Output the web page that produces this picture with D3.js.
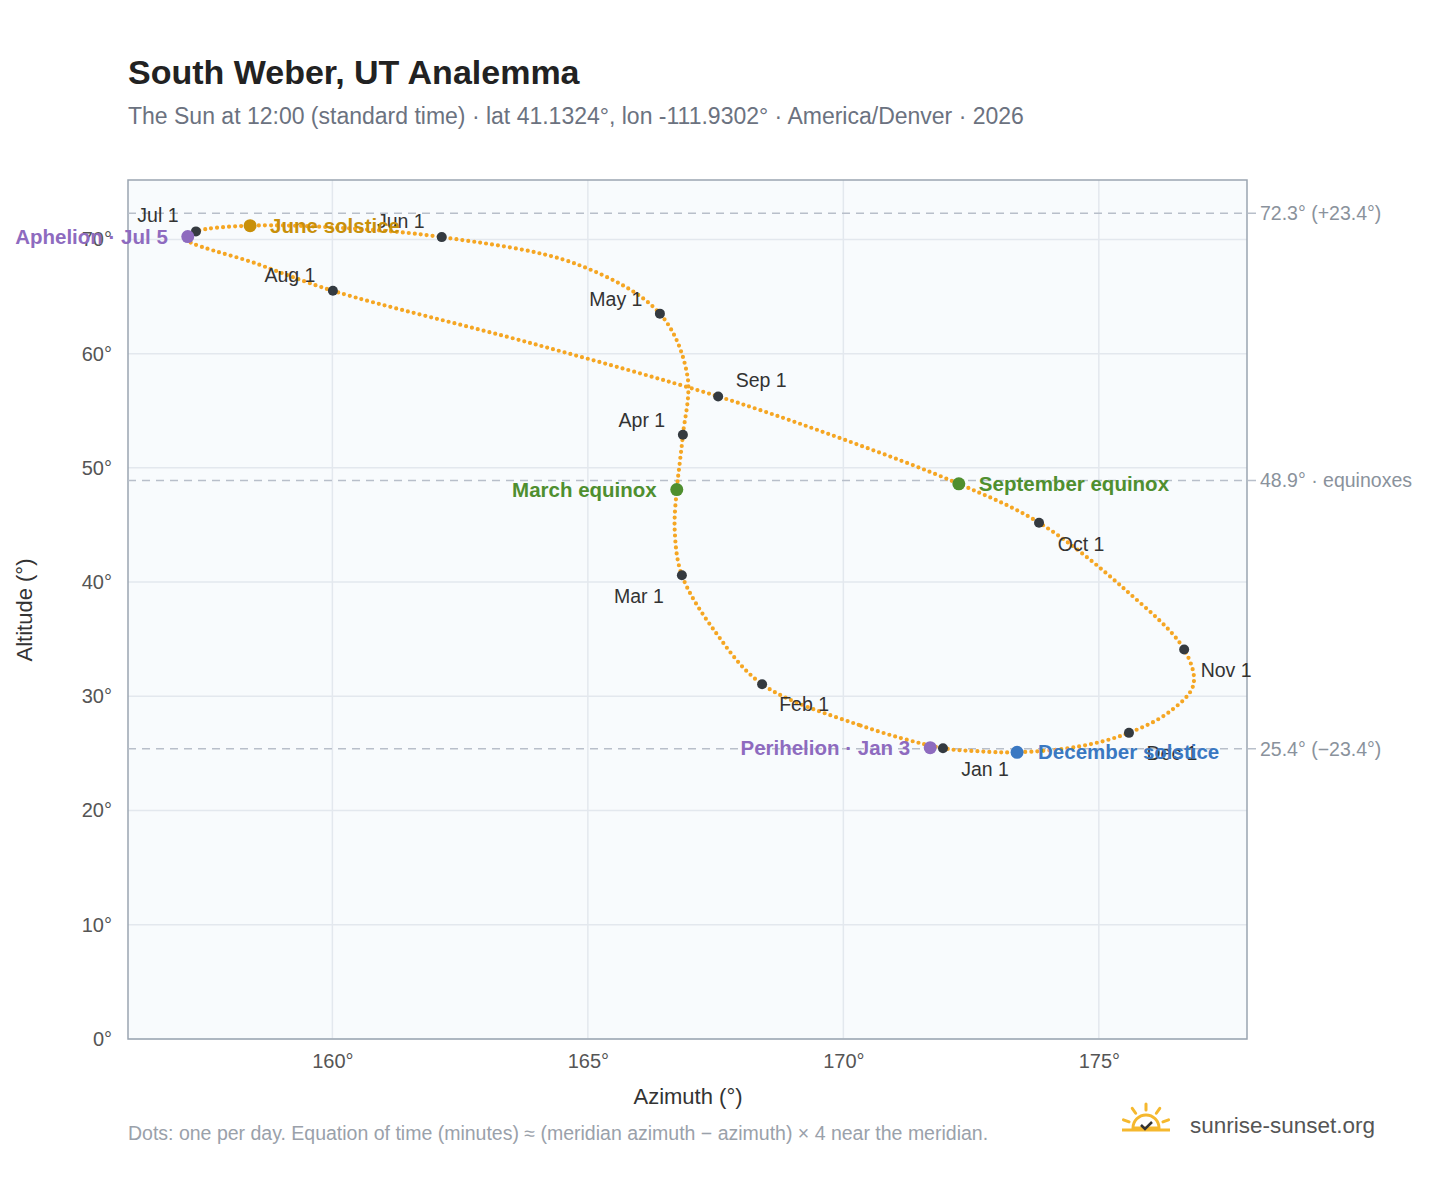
<!DOCTYPE html>
<html>
<head>
<meta charset="utf-8">
<script src="https://cdn.jsdelivr.net/npm/d3@7"></script>
<style>
  body { margin: 0; background: #fff; font-family: "Liberation Sans", Arial, sans-serif; }
</style>
</head>
<body>
<div id="chart"></div>
<script>
// track of the noon sun (azimuth, altitude) roughly every couple of weeks
const trackAz = [171.95, 170.3, 168.41, 167.5, 166.84, 166.7, 166.74, 166.8, 166.86, 166.95, 166.41,
  164.8, 162.14, 160.2, 158.39, 157.33, 157.12, 158.5, 160.01, 163.9, 167.55, 170.0, 172.26, 173.83,
  175.5, 176.67, 176.85, 176.4, 175.59, 174.6, 173.4, 172.6];
const trackAlt = [25.46, 27.5, 31.06, 35.6, 40.6, 44.5, 48.1, 50.5, 52.9, 58.0, 63.5,
  67.8, 70.2, 71.0, 71.2, 70.7, 70.1, 67.9, 65.5, 60.9, 56.25, 52.5, 48.6, 45.2,
  39.4, 34.1, 31.0, 28.7, 26.8, 25.6, 25.1, 25.2];

// first-of-month markers
const months = ["Jan 1", "Feb 1", "Mar 1", "Apr 1", "May 1", "Jun 1", "Jul 1", "Aug 1", "Sep 1", "Oct 1", "Nov 1", "Dec 1"];
const monthAz = [171.95, 168.41, 166.84, 166.86, 166.41, 162.14, 157.33, 160.01, 167.55, 173.83, 176.67, 175.59];
const monthAlt = [25.46, 31.06, 40.6, 52.9, 63.5, 70.2, 70.7, 65.5, 56.25, 45.2, 34.1, 26.8];

// special events
const events = ["Aphelion · Jul 5", "June solstice", "March equinox", "September equinox", "Perihelion · Jan 3", "December solstice"];
const eventAz = [157.17, 158.39, 166.74, 172.26, 171.7, 173.4];
const eventAlt = [70.25, 71.2, 48.1, 48.6, 25.5, 25.1];
const eventColor = ["#8e6bbf", "#c8900a", "#4f8f2f", "#4f8f2f", "#8e6bbf", "#3a78c2"];

// reference lines
const refAlt = [72.3, 48.9, 25.4];
const refLabel = ["72.3° (+23.4°)", "48.9° · equinoxes", "25.4° (−23.4°)"];

const xTicks = [160, 165, 170, 175];
const yTicks = [0, 10, 20, 30, 40, 50, 60, 70];

const W = 1448, H = 1188;
const margin = { top: 180, right: 201, bottom: 149, left: 128 };
const width = W - margin.left - margin.right;
const height = H - margin.top - margin.bottom;

const svg = d3.select("#chart").append("svg").attr("width", W).attr("height", H);

svg.append("text").attr("x", 128).attr("y", 84)
  .attr("font-size", 34).attr("font-weight", "bold").attr("fill", "#222")
  .text("South Weber, UT Analemma");
svg.append("text").attr("x", 128).attr("y", 124)
  .attr("font-size", 23).attr("fill", "#6b7280")
  .text("The Sun at 12:00 (standard time) · lat 41.1324°, lon -111.9302° · America/Denver · 2026");

const g = svg.append("g").attr("transform", `translate(${margin.left},${margin.top})`);

const x = d3.scaleLinear().domain([156, 177.9]).range([0, width]);
const y = d3.scaleLinear().domain([0, 75.2]).range([height, 0]);

g.append("rect").attr("width", width).attr("height", height).attr("fill", "#f8fbfd");

// grid
g.selectAll(".gx").data(xTicks).join("line")
  .attr("x1", (d) => x(d)).attr("x2", (d) => x(d)).attr("y1", 0).attr("y2", height)
  .attr("stroke", "#e3e8ee").attr("stroke-width", 1.5);
g.selectAll(".gy").data(yTicks).join("line")
  .attr("y1", (d) => y(d)).attr("y2", (d) => y(d)).attr("x1", 0).attr("x2", width)
  .attr("stroke", "#e3e8ee").attr("stroke-width", 1.5);

g.append("rect").attr("width", width).attr("height", height)
  .attr("fill", "none").attr("stroke", "#9aa5b1").attr("stroke-width", 1.5);

// axes
const xAxis = g.append("g").attr("transform", `translate(0,${height})`)
  .call(d3.axisBottom(x).tickValues(xTicks).tickFormat((d) => d + "°").tickSize(0).tickPadding(15));
const yAxis = g.append("g")
  .call(d3.axisLeft(y).tickValues(yTicks).tickFormat((d) => d + "°").tickSize(0).tickPadding(16));
[xAxis, yAxis].forEach((a) => {
  a.select(".domain").remove();
  a.selectAll("text").attr("font-size", 20).attr("fill", "#555").attr("font-family", "Liberation Sans, Arial, sans-serif");
});

svg.append("text").attr("x", 688).attr("y", 1104)
  .attr("text-anchor", "middle").attr("font-size", 22).attr("fill", "#333").text("Azimuth (°)");
svg.append("text").attr("transform", "translate(32,610) rotate(-90)")
  .attr("text-anchor", "middle").attr("font-size", 22).attr("fill", "#333").text("Altitude (°)");

// reference dashed lines
refAlt.forEach((a, i) => {
  g.append("line").attr("x1", 0).attr("x2", width + 12).attr("y1", y(a)).attr("y2", y(a))
    .attr("stroke", "#b8bfca").attr("stroke-width", 1.5).attr("stroke-dasharray", "8,6");
  g.append("text").attr("x", width + 13).attr("y", y(a) + 7)
    .attr("font-size", 19.5).attr("fill", "#8a929c").text(refLabel[i]);
});

// analemma track, drawn as a dotted curve
const pts = trackAz.map((d, i) => [x(d), y(trackAlt[i])]);
g.append("path")
  .attr("d", d3.line().curve(d3.curveCatmullRomClosed.alpha(0.5))(pts))
  .attr("fill", "none").attr("stroke", "#f5a623").attr("stroke-width", 4.2)
  .attr("stroke-linecap", "round").attr("stroke-dasharray", "0,6");

// month markers
const monthOff = [[42, 23], [42, 22], [-43, 23], [-41, -13], [-44, -13], [-41, -14],
  [-38, -14], [-43, -14], [43, -14], [42, 23], [42, 23], [43, 22]];
months.forEach((m, i) => {
  const cx = x(monthAz[i]), cy = y(monthAlt[i]);
  g.append("circle").attr("cx", cx).attr("cy", cy).attr("r", 5).attr("fill", "#343a40");
  g.append("text").attr("x", cx + monthOff[i][0]).attr("y", cy + monthOff[i][1] + 5)
    .attr("text-anchor", "middle").attr("font-size", 19.5).attr("fill", "#333").text(m);
});

// events
const eventOff = [[-20, "end"], [20, "start"], [-20, "end"], [20, "start"], [-20, "end"], [21, "start"]];
events.forEach((e, i) => {
  const cx = x(eventAz[i]), cy = y(eventAlt[i]);
  g.append("circle").attr("cx", cx).attr("cy", cy).attr("r", 6.5).attr("fill", eventColor[i]);
  g.append("text").attr("x", cx + eventOff[i][0]).attr("y", cy + 7)
    .attr("text-anchor", eventOff[i][1]).attr("font-size", 20.5).attr("font-weight", "bold")
    .attr("fill", eventColor[i]).text(e);
});

// footer
svg.append("text").attr("x", 128).attr("y", 1140).attr("font-size", 19.5).attr("fill", "#9aa1aa")
  .text("Dots: one per day. Equation of time (minutes) ≈ (meridian azimuth − azimuth) × 4 near the meridian.");

// logo
const logo = svg.append("g").attr("transform", "translate(1146,1128)");
logo.append("path").attr("d", d3.arc()({ innerRadius: 0, outerRadius: 13, startAngle: -Math.PI / 2, endAngle: Math.PI / 2 }))
  .attr("fill", "none").attr("stroke", "#f5b82e").attr("stroke-width", 3);
[-70, -35, 0, 35, 70].forEach((a) => {
  const r = a * Math.PI / 180;
  logo.append("line").attr("x1", 18 * Math.sin(r)).attr("y1", -18 * Math.cos(r))
    .attr("x2", 24 * Math.sin(r)).attr("y2", -24 * Math.cos(r))
    .attr("stroke", "#f5b82e").attr("stroke-width", 3).attr("stroke-linecap", "round");
});
logo.append("line").attr("x1", -24).attr("x2", 24).attr("y1", 2).attr("y2", 2)
  .attr("stroke", "#f5b82e").attr("stroke-width", 3);
logo.append("path").attr("d", "M-5,-3 L-1,1 L6,-6").attr("fill", "none")
  .attr("stroke", "#333").attr("stroke-width", 2.5);
svg.append("text").attr("x", 1190).attr("y", 1133).attr("font-size", 22.5).attr("fill", "#555")
  .text("sunrise-sunset.org");
</script>
</body>
</html>
